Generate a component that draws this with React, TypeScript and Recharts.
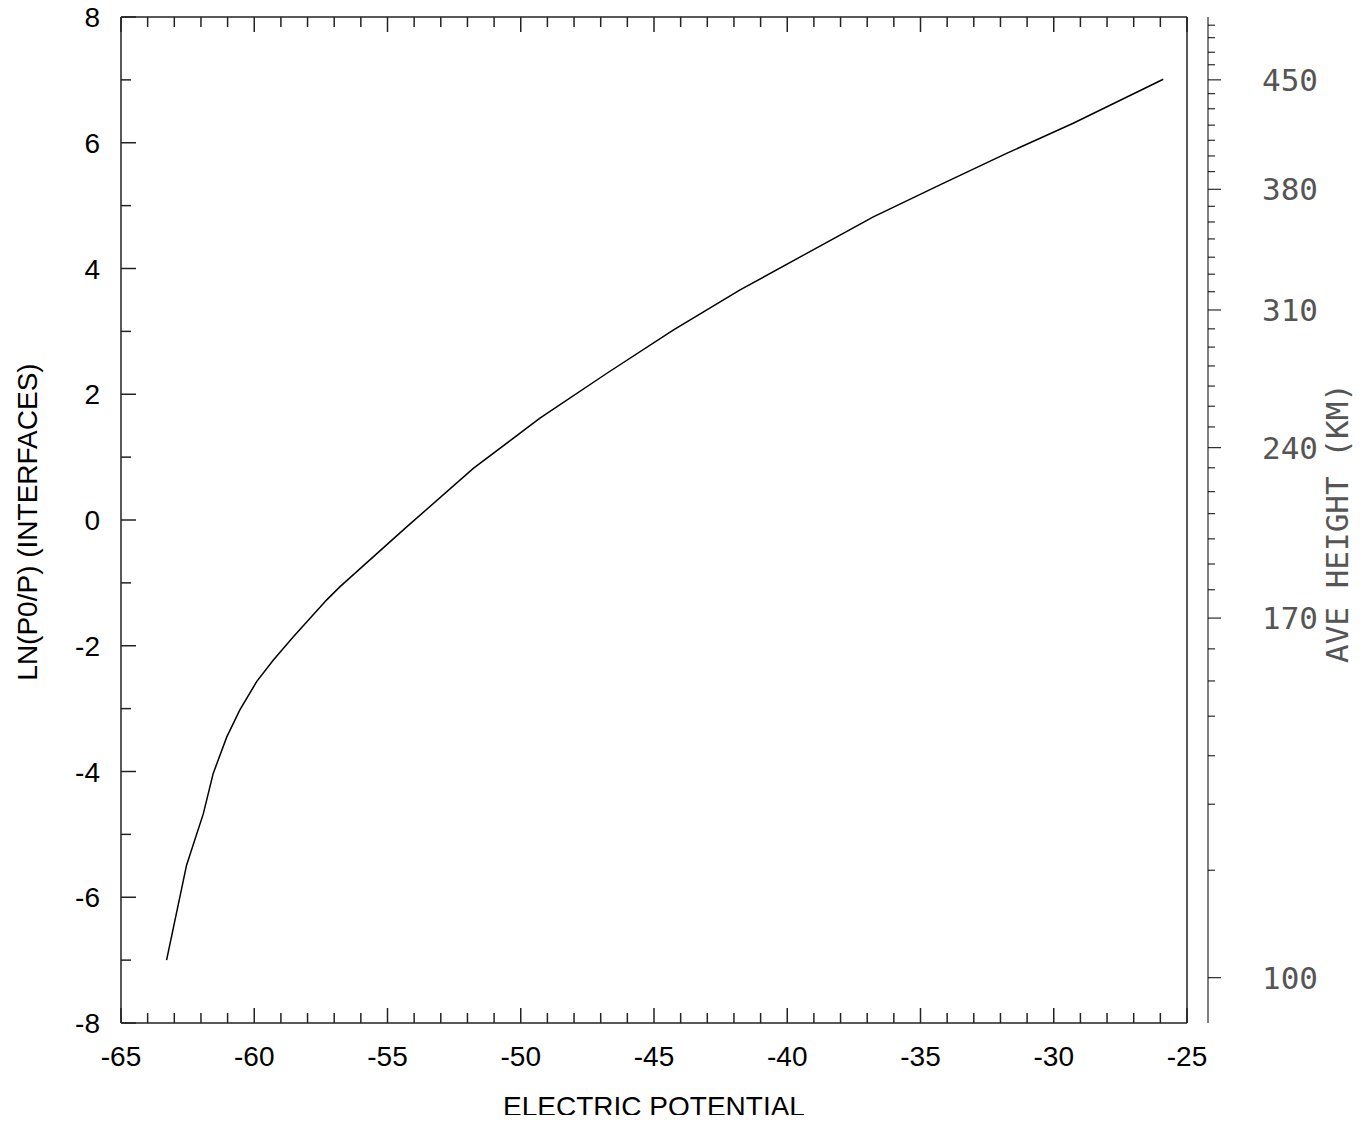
import { LineChart, Line, XAxis, YAxis, Label } from 'recharts'

// curve
const potential = [-63.29, -62.54, -61.91, -61.54, -61.03, -60.54, -59.91, -59.29, -58.54, -57.28, -56.78, -54.28, -51.78, -49.28, -46.78, -44.28, -41.77, -39.27, -36.77, -34.27, -31.77, -29.27, -25.89]
const lnRatio = [-7.0, -5.49, -4.67, -4.03, -3.45, -3.02, -2.57, -2.23, -1.86, -1.27, -1.06, -0.11, 0.82, 1.62, 2.33, 3.02, 3.66, 4.24, 4.82, 5.33, 5.83, 6.31, 7.01]

const xTicks = [-65, -64, -63, -62, -61, -60, -59, -58, -57, -56, -55, -54, -53, -52, -51, -50, -49, -48, -47, -46, -45, -44, -43, -42, -41, -40, -39, -38, -37, -36, -35, -34, -33, -32, -31, -30, -29, -28, -27, -26, -25]
const yTicks = [-8, -7, -6, -5, -4, -3, -2, -1, 0, 1, 2, 3, 4, 5, 6, 7, 8]

// AVE HEIGHT (km) ticks and where they sit on the LN(P0/P) scale (x100)
const heightKm = [100, 110, 120, 130, 140, 150, 160, 170, 180, 190, 200, 210, 220, 230, 240, 250, 260, 270, 280, 290, 300, 310, 320, 330, 340, 350, 360, 370, 380, 390, 400, 410, 420, 430, 440, 450, 460, 470, 480, 490]
const heightPos = [-728, -557, -452, -375, -312, -256, -205, -156, -111, -70, -30, 10, 45, 83, 115, 148, 181, 213, 245, 275, 304, 334, 363, 391, 418, 447, 474, 499, 526, 554, 579, 604, 628, 654, 678, 700, 724, 744, 767, 787]
const heightLabels = [100, 170, 240, 310, 380, 450]

const data = potential.map((p, i) => ({ p, ln: lnRatio[i] }))

const FRAME = '#222'
const SANS = '"Liberation Sans", Arial, sans-serif'
const MONO = '"DejaVu Sans Mono", monospace'

function kmAt(pos: number) {
  let best = 0
  heightPos.forEach((v, i) => {
    if (Math.abs(v - pos) < Math.abs(heightPos[best] - pos)) best = i
  })
  return heightKm[best]
}

function BottomTick(props: any) {
  const { x, y, payload } = props
  const major = payload.value % 5 === 0
  return (
    <g>
      <line x1={x} y1={y} x2={x} y2={y - (major ? 15 : 10)} stroke={FRAME} strokeWidth={1.5} />
      {major && (
        <text x={x} y={y + 43} textAnchor="middle" fontFamily={SANS} fontSize={28} fill="#000">
          {payload.value}
        </text>
      )}
    </g>
  )
}

function TopTick(props: any) {
  const { x, y, payload } = props
  const major = payload.value % 5 === 0
  return <line x1={x} y1={y} x2={x} y2={y + (major ? 15 : 10)} stroke={FRAME} strokeWidth={1.5} />
}

function LeftTick(props: any) {
  const { x, y, payload } = props
  const major = payload.value % 2 === 0
  return (
    <g>
      <line x1={x} y1={y} x2={x + (major ? 15 : 10)} y2={y} stroke={FRAME} strokeWidth={1.5} />
      {major && (
        <text x={x - 21} y={y} dy="0.36em" textAnchor="end" fontFamily={SANS} fontSize={28} fill="#000">
          {payload.value}
        </text>
      )}
    </g>
  )
}

function RightFrameTick(props: any) {
  const { x, y, payload } = props
  const major = payload.value % 2 === 0
  return <line x1={x} y1={y} x2={x - (major ? 15 : 10)} y2={y} stroke={FRAME} strokeWidth={1.5} />
}

function HeightTick(props: any) {
  const { x, y, payload } = props
  const km = kmAt(payload.value)
  const major = heightLabels.includes(km)
  return (
    <g>
      <line x1={x} y1={y} x2={x + (major ? 13 : 7)} y2={y} stroke="#000" strokeWidth={1} />
      {major && (
        <text x={x + 54} y={y} dy="0.36em" textAnchor="start" fontFamily={MONO} fontSize={31} fill="#555">
          {km}
        </text>
      )}
    </g>
  )
}

export default function App() {
  return (
    <div style={{ margin: -8 }}>
      <LineChart width={1369} height={1123} data={data} margin={{ top: 0, right: 0, bottom: 0, left: 0 }}>
        <XAxis
          xAxisId="bottom"
          dataKey="p"
          type="number"
          domain={[-65, -25]}
          ticks={xTicks}
          interval={0}
          height={100}
          tickLine={false}
          tickSize={0}
          tickMargin={0}
          axisLine={{ stroke: FRAME, strokeWidth: 1.5 }}
          tick={(p: any) => <BottomTick {...p} />}
        >
          <Label
            content={({ viewBox }: any) => (
              <text x={viewBox.x + viewBox.width / 2} y={viewBox.y + 93} textAnchor="middle" fontFamily={SANS} fontSize={28} fill="#000">
                ELECTRIC POTENTIAL
              </text>
            )}
          />
        </XAxis>
        <XAxis
          xAxisId="top"
          orientation="top"
          dataKey="p"
          type="number"
          domain={[-65, -25]}
          ticks={xTicks}
          interval={0}
          height={17}
          tickLine={false}
          tickSize={0}
          tickMargin={0}
          axisLine={{ stroke: FRAME, strokeWidth: 1.5 }}
          tick={(p: any) => <TopTick {...p} />}
        />
        <YAxis
          yAxisId="left"
          type="number"
          domain={[-8, 8]}
          ticks={yTicks}
          interval={0}
          width={121}
          tickLine={false}
          tickSize={0}
          tickMargin={0}
          axisLine={{ stroke: FRAME, strokeWidth: 1.5 }}
          tick={(p: any) => <LeftTick {...p} />}
        >
          <Label
            content={({ viewBox }: any) => {
              const cx = viewBox.x + 27
              const cy = viewBox.y + viewBox.height / 2 + 2
              return (
                <text x={cx} y={cy} dy="0.36em" transform={`rotate(-90 ${cx} ${cy})`} textAnchor="middle" fontFamily={SANS} fontSize={28} fill="#000">
                  LN(P0/P) (INTERFACES)
                </text>
              )
            }}
          />
        </YAxis>
        <YAxis
          yAxisId="frameRight"
          orientation="right"
          type="number"
          domain={[-8, 8]}
          ticks={yTicks}
          interval={0}
          width={21}
          tickLine={false}
          tickSize={0}
          tickMargin={0}
          axisLine={{ stroke: FRAME, strokeWidth: 1.5 }}
          tick={(p: any) => <RightFrameTick {...p} />}
        >
          <Label
            content={({ viewBox }: any) => {
              const cx = viewBox.x + 21 + 129
              const cy = viewBox.y + viewBox.height / 2 + 3
              return (
                <text x={cx} y={cy} dy="0.36em" transform={`rotate(-90 ${cx} ${cy})`} textAnchor="middle" fontFamily={MONO} fontSize={31} fill="#555">
                  AVE HEIGHT (KM)
                </text>
              )
            }}
          />
        </YAxis>
        <YAxis
          yAxisId="km"
          orientation="right"
          type="number"
          domain={[-800, 800]}
          allowDataOverflow
          ticks={heightPos}
          interval={0}
          width={161}
          tickLine={false}
          tickSize={0}
          tickMargin={0}
          axisLine={{ stroke: '#000', strokeWidth: 1 }}
          tick={(p: any) => <HeightTick {...p} />}
        />
        <Line
          xAxisId="bottom"
          yAxisId="left"
          type="linear"
          dataKey="ln"
          stroke="#000"
          strokeWidth={1.5}
          dot={false}
          isAnimationActive={false}
        />
      </LineChart>
    </div>
  )
}
